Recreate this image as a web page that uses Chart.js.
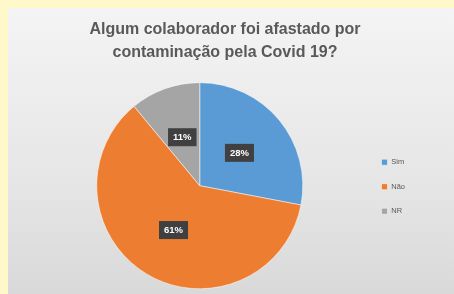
<!DOCTYPE html>
<html>
<head>
<meta charset="utf-8">
<script src="https://cdn.jsdelivr.net/npm/chart.js@4"></script>
<style>
  html, body { margin: 0; padding: 0; background: #fff8c8; }
  #panel {
    position: absolute; left: 8px; top: 8px; width: 446px; height: 286px;
    background: linear-gradient(to bottom, #f4f4f4 0%, #e6e6e6 60%, #d9d9d9 100%);
  }
</style>
</head>
<body>
<div id="panel"><canvas id="pieChart" width="446" height="286"></canvas></div>
<script>
// chart data
const categories = ['Sim', 'Não', 'NR'];
const percentages = [28, 61, 11];
const sliceColors = ['#5b9bd5', '#ed7d31', '#a5a5a5'];
const titleLines = ['Algum colaborador foi afastado por', 'contaminação pela Covid 19?'];

// draws the dark percentage boxes inside each slice
const boxLabels = {
    id: 'boxLabels',
    afterDatasetsDraw(chart) {
        const ctx = chart.ctx;
        const meta = chart.getDatasetMeta(0);
        ctx.save();
        ctx.font = 'bold 9.5px "Liberation Sans", Arial, sans-serif';
        ctx.textAlign = 'center';
        ctx.textBaseline = 'middle';
        meta.data.forEach(function(arc, i) {
            const mid = (arc.startAngle + arc.endAngle) / 2;
            const r = arc.outerRadius * 0.5;
            const x = arc.x + Math.cos(mid) * r;
            const y = arc.y + Math.sin(mid) * r;
            const txt = percentages[i] + '%';
            const w = ctx.measureText(txt).width + 10;
            const h = 18;
            ctx.fillStyle = '#404040';
            ctx.fillRect(x - w / 2, y - h / 2, w, h);
            ctx.fillStyle = '#ffffff';
            ctx.fillText(txt, x, y + 0.5);
        });
        ctx.restore();
    }
};

const ctx = document.getElementById('pieChart').getContext('2d');
const pieChart = new Chart(ctx, {
    type: 'pie',
    data: {
        labels: categories,
        datasets: [{
            data: percentages,
            backgroundColor: sliceColors,
            borderColor: '#ffffff',
            borderWidth: 0.5
        }]
    },
    options: {
        responsive: false,
        animation: false,
        layout: { padding: { left: 27, right: 39, top: 0, bottom: 5 } },
        plugins: {
            title: {
                display: true,
                text: titleLines,
                color: '#595959',
                font: { family: '"Liberation Sans", Arial, sans-serif', size: 16, weight: 'bold', lineHeight: 1.45 },
                padding: { top: 10, bottom: 18 }
            },
            legend: {
                position: 'right',
                // empty legend title pushes the items down to the pie's middle
                title: { display: true, text: ' ', font: { size: 7 }, padding: { top: 68, bottom: 0 } },
                labels: {
                    boxWidth: 6,
                    boxHeight: 6,
                    padding: 17,
                    color: '#595959',
                    font: { family: '"Liberation Sans", Arial, sans-serif', size: 7.5 }
                }
            },
            tooltip: { enabled: false }
        }
    },
    plugins: [boxLabels]
});
</script>
</body>
</html>
